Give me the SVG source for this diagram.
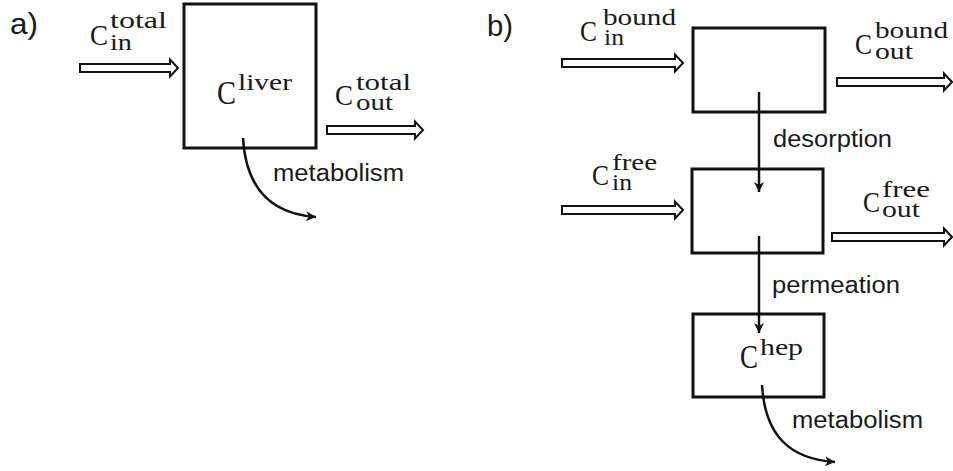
<svg xmlns="http://www.w3.org/2000/svg" width="953" height="471" viewBox="0 0 953 471">
  <style>
    .box { fill: #ffffff; stroke: #111111; stroke-width: 3; }
    .hollow { fill: #ffffff; stroke: #111111; stroke-width: 2; stroke-linejoin: miter; }
    .flow { fill: none; stroke: #111111; stroke-width: 2.5; }
    .math { font-family: "Liberation Serif", "DejaVu Serif", serif; fill: #1a1a1a; font-size: 30px; }
    .big { font-size: 34px; }
    .script { font-size: 24px; }
    .label { font-family: "Liberation Sans", Arial, sans-serif; font-size: 23px; fill: #1a1a1a; }
    .panel { font-family: "Liberation Sans", Arial, sans-serif; font-size: 29px; fill: #1a1a1a; }
  </style>
  <defs>
    <marker id="head" viewBox="0 0 10 10" refX="10" refY="5" markerUnits="userSpaceOnUse" markerWidth="11" markerHeight="10" orient="auto">
      <path d="M0,0 L10,5 L0,10 L3,5 Z" fill="#111111"/>
    </marker>
  </defs>

  <!-- panel a: single compartment liver -->
  <text class="panel" x="10" y="34" textLength="28" lengthAdjust="spacingAndGlyphs">a)</text>

  <g id="liver">
    <rect class="box" x="184" y="4" width="132" height="144"/>
    <text class="math"><tspan class="big" x="217" y="104" textLength="19" lengthAdjust="spacingAndGlyphs">C</tspan><tspan class="script" x="238" y="90" textLength="54" lengthAdjust="spacingAndGlyphs">liver</tspan></text>
  </g>

  <g id="a-in-label">
    <text class="math"><tspan x="90" y="45" textLength="18" lengthAdjust="spacingAndGlyphs">C</tspan><tspan class="script" x="110" y="28" textLength="57" lengthAdjust="spacingAndGlyphs">total</tspan><tspan class="script" x="110" y="50" textLength="22" lengthAdjust="spacingAndGlyphs">in</tspan></text>
  </g>

  <g id="a-out-label">
    <text class="math"><tspan x="335" y="105" textLength="18" lengthAdjust="spacingAndGlyphs">C</tspan><tspan class="script" x="356" y="90" textLength="55" lengthAdjust="spacingAndGlyphs">total</tspan><tspan class="script" x="356" y="110" textLength="37" lengthAdjust="spacingAndGlyphs">out</tspan></text>
  </g>

  <!-- panel b: bound / free / hepatocyte compartments -->
  <text class="panel" x="487" y="36" textLength="26" lengthAdjust="spacingAndGlyphs">b)</text>

  <g id="bound">
    <rect class="box" x="693" y="28" width="132" height="84"/>
  </g>
  <g id="free">
    <rect class="box" x="692" y="169" width="131" height="84"/>
  </g>
  <g id="hep">
    <rect class="box" x="693" y="314" width="131" height="83"/>
    <text class="math"><tspan class="big" x="740" y="368" textLength="18" lengthAdjust="spacingAndGlyphs">C</tspan><tspan class="script" x="760" y="355" textLength="43" lengthAdjust="spacingAndGlyphs">hep</tspan></text>
  </g>

  <g id="bound-in-label">
    <text class="math"><tspan x="580" y="41" textLength="17" lengthAdjust="spacingAndGlyphs">C</tspan><tspan class="script" x="603" y="25" textLength="73" lengthAdjust="spacingAndGlyphs">bound</tspan><tspan class="script" x="604" y="45" textLength="20" lengthAdjust="spacingAndGlyphs">in</tspan></text>
  </g>
  <g id="bound-out-label">
    <text class="math"><tspan x="855" y="54" textLength="17" lengthAdjust="spacingAndGlyphs">C</tspan><tspan class="script" x="875" y="38" textLength="73" lengthAdjust="spacingAndGlyphs">bound</tspan><tspan class="script" x="875" y="59" textLength="38" lengthAdjust="spacingAndGlyphs">out</tspan></text>
  </g>
  <g id="free-in-label">
    <text class="math"><tspan x="592" y="185" textLength="17" lengthAdjust="spacingAndGlyphs">C</tspan><tspan class="script" x="612" y="170" textLength="45" lengthAdjust="spacingAndGlyphs">free</tspan><tspan class="script" x="612" y="190" textLength="20" lengthAdjust="spacingAndGlyphs">in</tspan></text>
  </g>
  <g id="free-out-label">
    <text class="math"><tspan x="863" y="212" textLength="17" lengthAdjust="spacingAndGlyphs">C</tspan><tspan class="script" x="882" y="197" textLength="48" lengthAdjust="spacingAndGlyphs">free</tspan><tspan class="script" x="882" y="217" textLength="38" lengthAdjust="spacingAndGlyphs">out</tspan></text>
  </g>

  <!-- connectors -->
  <g id="connectors">
    <!-- hollow flow arrows -->
    <path class="hollow" d="M80,64 H170 V59.5 L178,68 L170,76.5 V72 H80 Z"/>
    <path class="hollow" d="M327,126 H415 V121.5 L423,130 L415,138.5 V134 H327 Z"/>
    <path class="hollow" d="M562,59 H675 V54.5 L683,63 L675,71.5 V67 H562 Z"/>
    <path class="hollow" d="M562,206 H675 V201.5 L683,210 L675,218.5 V214 H562 Z"/>
    <path class="hollow" d="M837,78 H944 V73.5 L952,82 L944,90.5 V86 H837 Z"/>
    <path class="hollow" d="M832,233 H944 V228.5 L952,237 L944,245.5 V241 H832 Z"/>

    <!-- transfer arrows -->
    <path class="flow" d="M759,92 V192" marker-end="url(#head)"/>
    <path class="flow" d="M759,236 V333" marker-end="url(#head)"/>

    <!-- metabolism curves -->
    <path class="flow" d="M243,138 C246,190 272,214 316,217" marker-end="url(#head)"/>
    <path class="flow" d="M762,385 C765,436 790,459 835,462" marker-end="url(#head)"/>

    <text class="label" x="273" y="181" textLength="131" lengthAdjust="spacingAndGlyphs">metabolism</text>
    <text class="label" x="773" y="147" textLength="119" lengthAdjust="spacingAndGlyphs">desorption</text>
    <text class="label" x="772" y="293" textLength="128" lengthAdjust="spacingAndGlyphs">permeation</text>
    <text class="label" x="792" y="428" textLength="131" lengthAdjust="spacingAndGlyphs">metabolism</text>
  </g>
</svg>
